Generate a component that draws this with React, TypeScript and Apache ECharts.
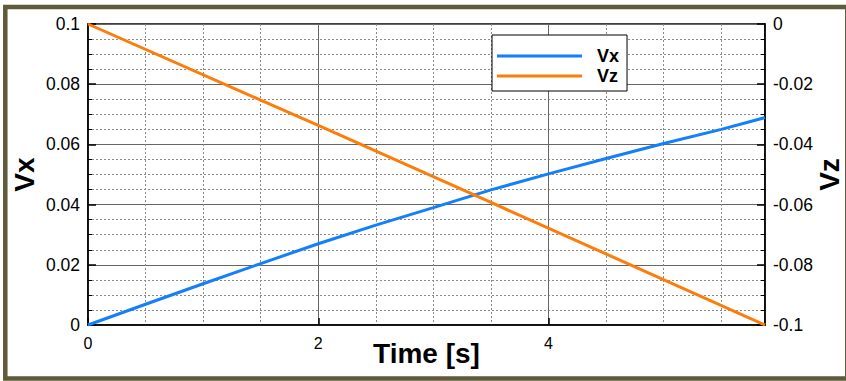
import React, { useEffect, useRef } from "react";
import * as echarts from "echarts";

// Time samples [s] and Vx values
const timeVx = [0, 0.5, 1, 1.5, 2, 2.5, 3, 3.5, 4, 4.5, 5, 5.5, 5.88];
const vxValues = [0, 0.0069, 0.0137, 0.0204, 0.027, 0.0332, 0.039, 0.0449, 0.0502, 0.0553, 0.0603, 0.065, 0.0689];
// Vz is a straight line
const timeVz = [0, 1.5, 2, 3.5, 5.88];
const vzValues = [0, -0.0253, -0.0337, -0.0593, -0.1];

const xMin = 0;
const xMax = 5.88;
const xInterval = 2;
const vxMin = 0;
const vxMax = 0.1;
const vzMin = -0.1;
const vzMax = 0;
const yInterval = 0.02;

const seriesNames = ["Vx", "Vz"];
const xName = "Time [s]";

const FONT = "'Liberation Sans', Arial, Helvetica, sans-serif";

export default function App() {
  const ref = useRef<HTMLDivElement>(null);
  useEffect(() => {
    if (!ref.current) return;
    const chart = echarts.init(ref.current, undefined, { renderer: "svg" });
    const dotted = { color: "#8a8a8a", width: 1, type: [2, 2] as any };
    const major = { color: "#666", width: 1, type: "solid" as const };
    const yAxisCommon = {
      type: "value" as const,
      interval: yInterval,
      nameLocation: "middle" as const,
      nameRotate: 90,
      nameGap: 50,
      nameMoveOverlap: false,
      nameTextStyle: { fontSize: 28, fontWeight: "bold" as const, color: "#000", fontFamily: FONT },
      axisLine: { show: true, lineStyle: { color: "#000", width: 1.5 } },
      axisTick: { show: true, inside: true, length: 8, lineStyle: { color: "#000", width: 1.5 } },
      minorTick: { show: true, splitNumber: 4, length: 4, lineStyle: { color: "#000", width: 1 } },
      axisLabel: { fontSize: 17.5, color: "#000", fontFamily: FONT, margin: 8 },
    };
    chart.setOption({
      animation: false,
      backgroundColor: "#fff",
      grid: {
        left: 88,
        right: 81,
        top: 24,
        bottom: 56,
        containLabel: false,
        outerBoundsMode: "none",
        show: true,
        borderColor: "#000",
        borderWidth: 1.5,
        backgroundColor: "transparent",
      },
      graphic: [
        {
          type: "rect",
          shape: { x: 5.3, y: 7, width: 842, height: 371.5 },
          style: { fill: "none", stroke: "#5e5a3a", lineWidth: 4.5 },
          z: 100,
        },
      ],
      legend: {
        data: seriesNames,
        orient: "vertical",
        left: 492,
        top: 35,
        icon: "rect",
        itemWidth: 85,
        itemHeight: 3,
        itemGap: 0,
        padding: [11, 8, 5, 5],
        borderColor: "#000",
        borderWidth: 1,
        backgroundColor: "#fff",
        textStyle: {
          fontSize: 18,
          fontWeight: "bold",
          color: "#000",
          fontFamily: FONT,
          lineHeight: 20,
          padding: [0, 0, 0, 10],
        },
      },
      xAxis: {
        type: "value",
        min: xMin,
        max: xMax,
        interval: xInterval,
        name: xName,
        nameLocation: "middle",
        nameGap: 14,
        nameMoveOverlap: false,
        nameTextStyle: { fontSize: 28, fontWeight: "bold", color: "#000", fontFamily: FONT, verticalAlign: "top" },
        axisLine: { show: true, lineStyle: { color: "#000", width: 1.5 } },
        axisTick: { show: true, inside: true, length: 7, lineStyle: { color: "#000", width: 1.5 } },
        minorTick: { show: false, splitNumber: 4 },
        axisLabel: { fontSize: 16, color: "#000", fontFamily: FONT, margin: 10, showMaxLabel: false },
        splitLine: { show: true, lineStyle: major },
        minorSplitLine: { show: true, lineStyle: dotted },
      },
      yAxis: [
        {
          ...yAxisCommon,
          min: vxMin,
          max: vxMax,
          position: "left",
          name: seriesNames[0],
          splitLine: { show: true, lineStyle: major },
          minorSplitLine: { show: true, lineStyle: dotted },
        },
        {
          ...yAxisCommon,
          min: vzMin,
          max: vzMax,
          position: "right",
          name: seriesNames[1],
          splitLine: { show: false },
          minorSplitLine: { show: false },
        },
      ],
      series: [
        {
          name: seriesNames[0],
          type: "line",
          yAxisIndex: 0,
          symbol: "none",
          data: timeVx.map((t, i) => [t, vxValues[i]]),
          lineStyle: { color: "#137ffa", width: 3 },
          itemStyle: { color: "#137ffa" },
          z: 3,
        },
        {
          name: seriesNames[1],
          type: "line",
          yAxisIndex: 1,
          symbol: "none",
          data: timeVz.map((t, i) => [t, vzValues[i]]),
          lineStyle: { color: "#fd7d0a", width: 3 },
          itemStyle: { color: "#fd7d0a" },
          z: 3,
        },
      ],
    });
    return () => chart.dispose();
  }, []);
  return (
    <div
      ref={ref}
      style={{ position: "absolute", left: 0, top: 0, width: 846, height: 381 }}
    />
  );
}
